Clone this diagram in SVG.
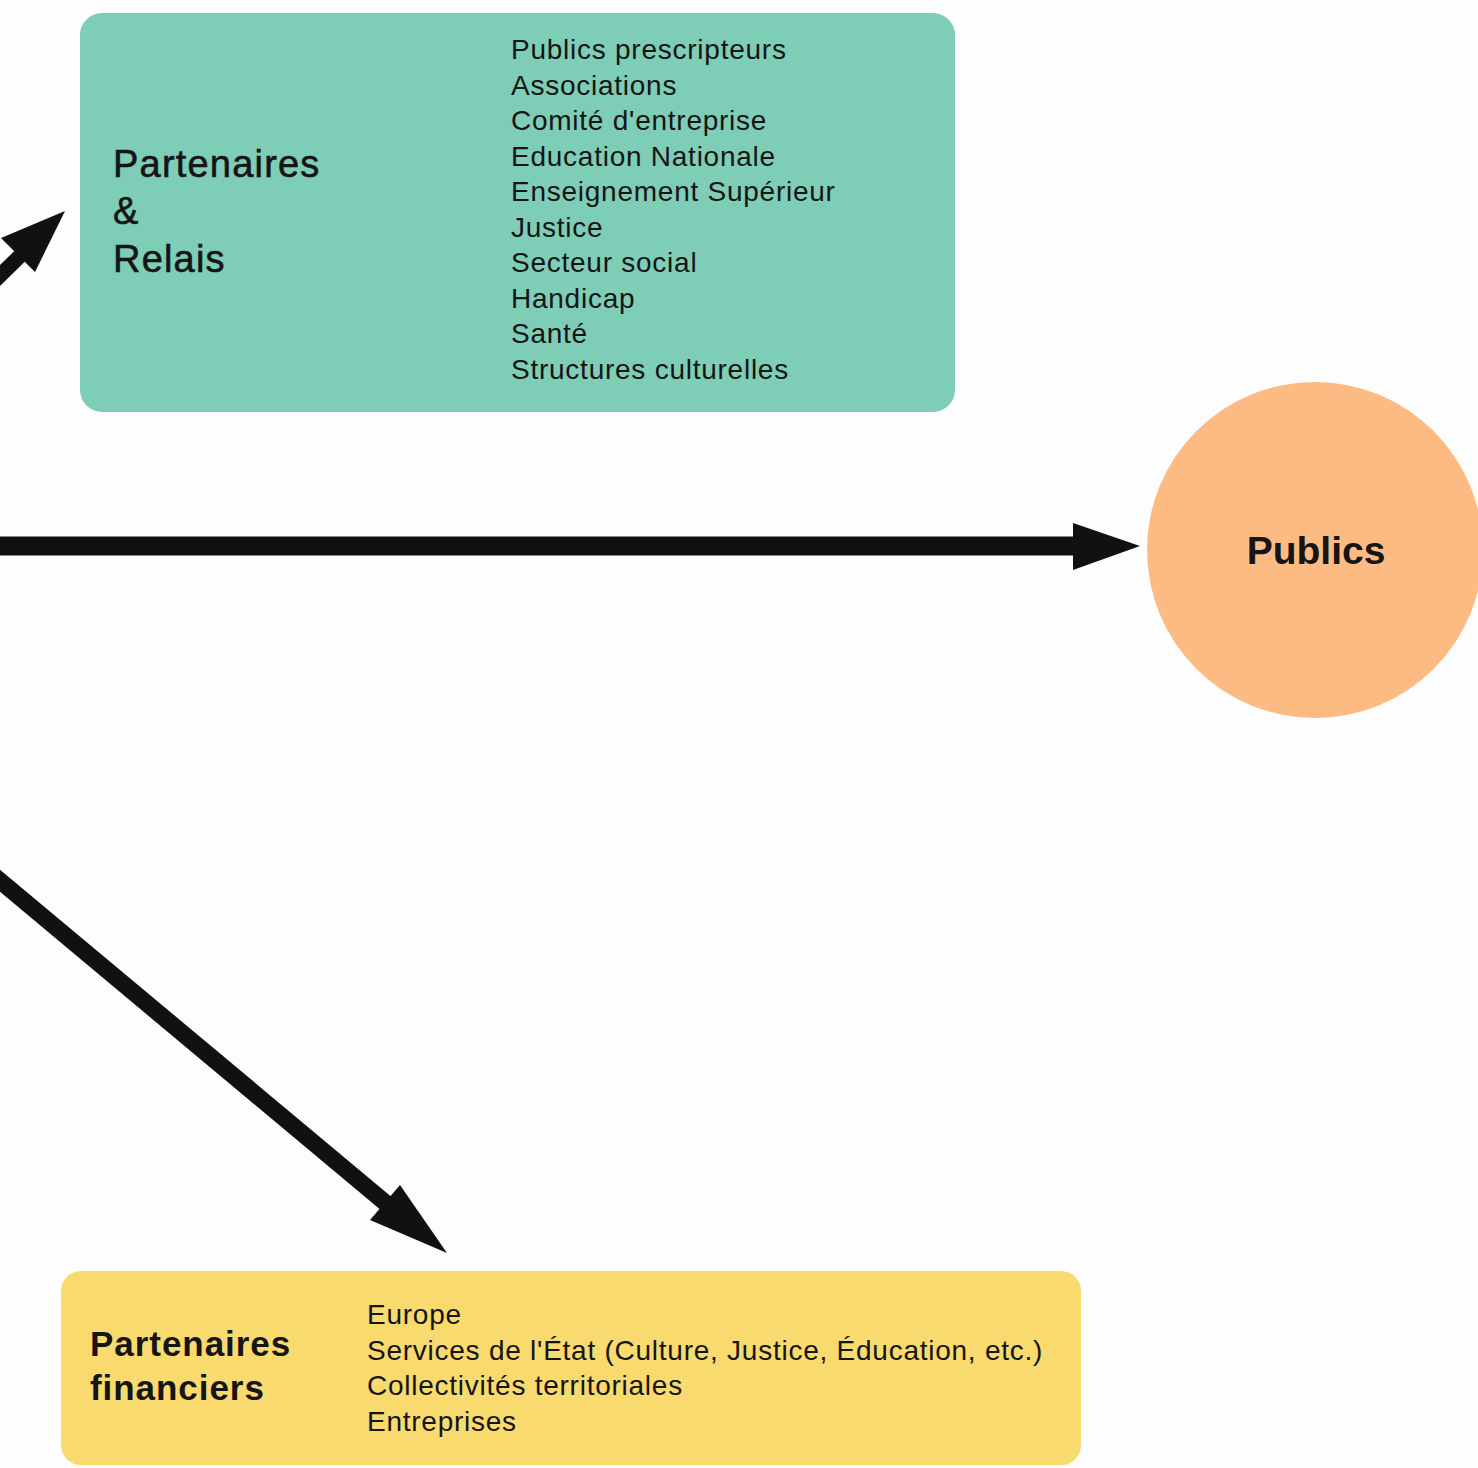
<svg xmlns="http://www.w3.org/2000/svg" width="1478" height="1468" viewBox="0 0 1478 1468">
<style>
.bg{fill:#fdfdfd}
.shaft{stroke:#111;fill:none}
.head{fill:#111}
.title{font-family:"Liberation Sans",Arial,sans-serif;fill:#151515}
.list{font-family:"Liberation Sans",Arial,sans-serif;font-size:28px;letter-spacing:0.75px;fill:#151515}
</style>
<rect class="bg" x="0" y="0" width="1478" height="1468"/>
<g id="connectors">
  <line class="shaft" x1="-30" y1="305" x2="20" y2="256" stroke-width="15"/>
  <polygon class="head" points="65,211 1,238 35,272"/>
  <line class="shaft" x1="-10" y1="546" x2="1076" y2="546" stroke-width="19"/>
  <polygon class="head" points="1140,546 1073,523 1073,570"/>
  <line class="shaft" x1="-20" y1="864" x2="388" y2="1205" stroke-width="17"/>
  <polygon class="head" points="447,1253 400,1185 370,1220"/>
</g>
<g id="partenaires-relais">
  <rect x="80" y="13" width="875" height="399" rx="22" fill="#7ecdb6"/>
  <text class="title" font-size="38" letter-spacing="1.2" stroke="#151515" stroke-width="0.6">
    <tspan x="113" y="177">Partenaires</tspan>
    <tspan x="113" y="224">&amp;</tspan>
    <tspan x="113" y="272">Relais</tspan>
  </text>
  <text class="list">
    <tspan x="511" y="59">Publics prescripteurs</tspan>
    <tspan x="511" y="94.5">Associations</tspan>
    <tspan x="511" y="130">Comité d'entreprise</tspan>
    <tspan x="511" y="165.5">Education Nationale</tspan>
    <tspan x="511" y="201">Enseignement Supérieur</tspan>
    <tspan x="511" y="236.5">Justice</tspan>
    <tspan x="511" y="272">Secteur social</tspan>
    <tspan x="511" y="307.5">Handicap</tspan>
    <tspan x="511" y="343">Santé</tspan>
    <tspan x="511" y="378.5">Structures culturelles</tspan>
  </text>
</g>
<g id="publics">
  <circle cx="1315" cy="550" r="168" fill="#fbbb82"/>
  <text class="title" x="1316" y="564" font-size="39" font-weight="bold" text-anchor="middle">Publics</text>
</g>
<g id="partenaires-financiers">
  <rect x="61" y="1271" width="1020" height="194" rx="20" fill="#f9da6e"/>
  <text class="title" font-size="35" font-weight="bold" letter-spacing="0.95">
    <tspan x="90" y="1356">Partenaires</tspan>
    <tspan x="90" y="1400">financiers</tspan>
  </text>
  <text class="list">
    <tspan x="367" y="1324">Europe</tspan>
    <tspan x="367" y="1359.5">Services de l'État (Culture, Justice, Éducation, etc.)</tspan>
    <tspan x="367" y="1395">Collectivités territoriales</tspan>
    <tspan x="367" y="1430.5">Entreprises</tspan>
  </text>
</g>
</svg>
